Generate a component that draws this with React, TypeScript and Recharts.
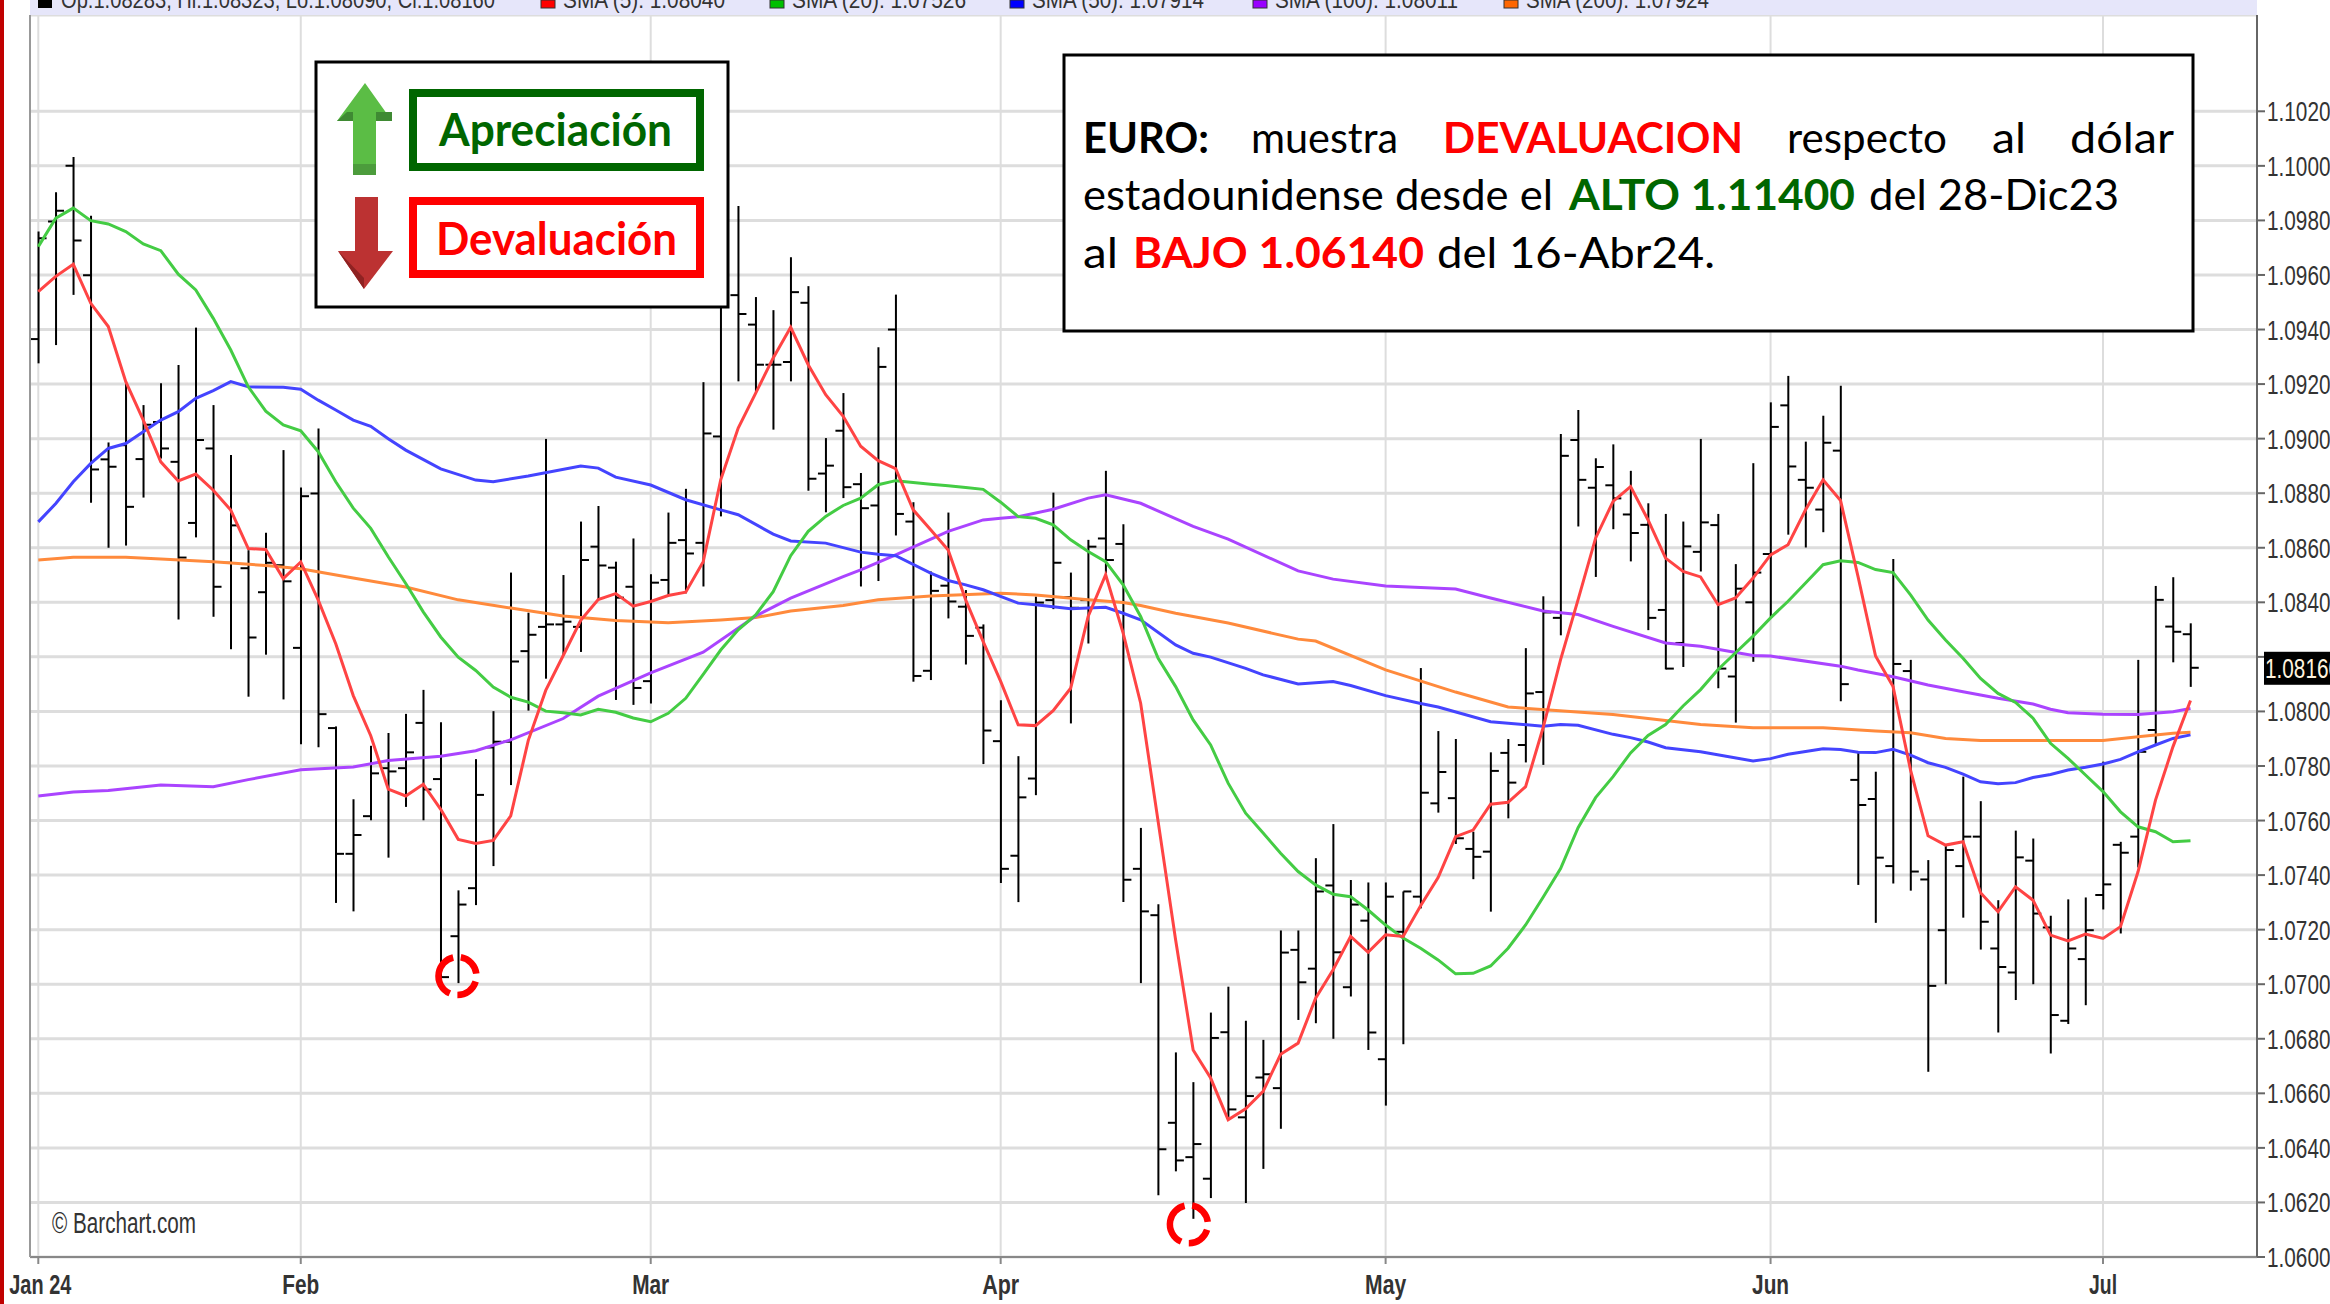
import React from 'react';
import {
  ComposedChart,
  Bar,
  Line,
  XAxis,
  YAxis,
  CartesianGrid,
  ReferenceDot,
} from 'recharts';

const openVals = [
  1.09365, 1.09796, 1.1, 1.09599, 1.08924, 1.08976, 1.08925, 1.09061, 1.08915, 1.08691,
  1.08964, 1.08545, 1.08525, 1.08437, 1.08536, 1.08233, 1.08799, 1.07939, 1.07478, 1.07616,
  1.07792, 1.07792, 1.07958, 1.07752, 1.07176, 1.07352, 1.07868, 1.07889, 1.08221, 1.0831,
  1.08319, 1.0831, 1.08604, 1.08527, 1.08457, 1.08111, 1.08482, 1.08628, 1.08618, 1.09008,
  1.09526, 1.09418, 1.09271, 1.09281, 1.09498, 1.08872, 1.09029, 1.08833, 1.08755, 1.094,
  1.08696, 1.08149, 1.08461, 1.08384, 1.08307, 1.07891, 1.07471, 1.07754, 1.08408, 1.08419,
  1.08408, 1.08634, 1.08614, 1.07423, 1.07253, 1.06492, 1.06366, 1.06287, 1.06824, 1.06512,
  1.06658, 1.06619, 1.07126, 1.07057, 1.07362, 1.06989, 1.07233, 1.06725, 1.07192, 1.07321,
  1.07663, 1.07682, 1.07496, 1.07486, 1.07848, 1.07877, 1.08071, 1.08343, 1.08995, 1.0882,
  1.08829, 1.08722, 1.08684, 1.08372, 1.08251, 1.08585, 1.08683, 1.08128, 1.084, 1.08577,
  1.09122, 1.08849, 1.0874, 1.08956, 1.07749, 1.07679, 1.07433, 1.08148, 1.07384, 1.07198,
  1.07433, 1.07541, 1.07131, 1.07043, 1.07453, 1.07208, 1.06866, 1.07092, 1.07327, 1.07511,
  1.07541, 1.07932, 1.08311, 1.08283,
];

const highVals = [
  1.09759, 1.09903, 1.10032, 1.09817, 1.08986, 1.09203, 1.09123, 1.09203, 1.0927, 1.09407,
  1.09123, 1.0894, 1.08591, 1.08655, 1.08958, 1.08821, 1.09037, 1.07945, 1.07678, 1.07874,
  1.07921, 1.07991, 1.08079, 1.0796, 1.07344, 1.07825, 1.08001, 1.08509, 1.08362, 1.08999,
  1.085, 1.08696, 1.08753, 1.08549, 1.08634, 1.08503, 1.08729, 1.08816, 1.09207, 1.09545,
  1.09853, 1.09519, 1.09471, 1.09665, 1.09559, 1.09002, 1.09167, 1.08874, 1.09335, 1.09528,
  1.08767, 1.08513, 1.08729, 1.08445, 1.08319, 1.08041, 1.07836, 1.08421, 1.08802, 1.08509,
  1.08629, 1.08882, 1.08686, 1.07573, 1.07293, 1.0675, 1.06641, 1.06896, 1.06991, 1.06866,
  1.06796, 1.07197, 1.07197, 1.07462, 1.07587, 1.07382, 1.07373, 1.07373, 1.0734, 1.08159,
  1.07928, 1.07899, 1.07559, 1.0785, 1.07899, 1.08232, 1.08422, 1.09017, 1.09105, 1.08928,
  1.08979, 1.08882, 1.08763, 1.08724, 1.08696, 1.08999, 1.08724, 1.0854, 1.0891, 1.09133,
  1.0923, 1.08989, 1.09084, 1.09194, 1.07855, 1.07779, 1.08559, 1.08189, 1.07455, 1.07514,
  1.07761, 1.07671, 1.07308, 1.07563, 1.07534, 1.07251, 1.07311, 1.07318, 1.07816, 1.07522,
  1.08189, 1.0846, 1.08492, 1.08323,
];

const lowVals = [
  1.09276, 1.09343, 1.09527, 1.08765, 1.086, 1.08608, 1.08784, 1.08927, 1.08337, 1.08638,
  1.08347, 1.08228, 1.08054, 1.08208, 1.08044, 1.0788, 1.07869, 1.07298, 1.07267, 1.07601,
  1.07464, 1.0765, 1.07601, 1.0702, 1.07004, 1.0729, 1.07433, 1.0773, 1.08003, 1.0812,
  1.08205, 1.08218, 1.08408, 1.08042, 1.08024, 1.08029, 1.08427, 1.08433, 1.08458, 1.08715,
  1.0921, 1.09164, 1.09033, 1.0921, 1.08809, 1.0873, 1.08782, 1.08458, 1.08478, 1.08645,
  1.08109, 1.08115, 1.08341, 1.08172, 1.07807, 1.07371, 1.07301, 1.07693, 1.08375, 1.07956,
  1.08249, 1.08506, 1.07301, 1.07004, 1.06226, 1.06314, 1.0614, 1.06216, 1.06509, 1.06198,
  1.06323, 1.0647, 1.06869, 1.06857, 1.068, 1.06955, 1.06759, 1.06555, 1.0678, 1.07278,
  1.07629, 1.07514, 1.07385, 1.07266, 1.07608, 1.07813, 1.07804, 1.08279, 1.08678, 1.08493,
  1.08668, 1.0855, 1.08298, 1.08154, 1.08163, 1.08513, 1.08085, 1.07959, 1.08182, 1.08346,
  1.08648, 1.08601, 1.08657, 1.08037, 1.07364, 1.07225, 1.07369, 1.07343, 1.06679, 1.07,
  1.07244, 1.07127, 1.06823, 1.06942, 1.07, 1.06746, 1.06854, 1.06923, 1.07274, 1.07186,
  1.07428, 1.07877, 1.0818, 1.0809,
];

const closeVals = [
  1.09735, 1.09835, 1.09726, 1.08887, 1.08897, 1.0875, 1.09051, 1.08964, 1.08564, 1.08995,
  1.08457, 1.08682, 1.08271, 1.08545, 1.08477, 1.08789, 1.0799, 1.07478, 1.07547, 1.07773,
  1.0778, 1.0785, 1.07714, 1.07026, 1.07292, 1.07694, 1.07889, 1.08183, 1.08281, 1.08319,
  1.08329, 1.08555, 1.08535, 1.08417, 1.08086, 1.08472, 1.08618, 1.08579, 1.09019, 1.0953,
  1.09457, 1.09271, 1.09271, 1.09537, 1.08853, 1.08901, 1.08822, 1.08745, 1.09263, 1.08724,
  1.0813, 1.08442, 1.08403, 1.08277, 1.0793, 1.07423, 1.07685, 1.08399, 1.08545, 1.0838,
  1.08604, 1.08555, 1.07383, 1.07267, 1.06395, 1.06354, 1.06414, 1.06803, 1.06541, 1.0659,
  1.0667, 1.07116, 1.07007, 1.0734, 1.07117, 1.07292, 1.06823, 1.07321, 1.0734, 1.07702,
  1.07778, 1.07535, 1.07467, 1.07782, 1.07739, 1.08066, 1.08363, 1.08937, 1.08849, 1.08896,
  1.08781, 1.08654, 1.08343, 1.08157, 1.08605, 1.08693, 1.08157, 1.0845, 1.08509, 1.09043,
  1.08898, 1.0882, 1.08985, 1.081, 1.07657, 1.07464, 1.08174, 1.07413, 1.06994, 1.07492,
  1.07541, 1.07229, 1.07063, 1.07465, 1.07259, 1.06887, 1.07131, 1.07198, 1.07366, 1.07482,
  1.07852, 1.08409, 1.08292, 1.0816,
];

const sma5 = [
  1.09539, 1.09595, 1.09639, 1.09496, 1.09411, 1.09209, 1.09068, 1.08915, 1.08845, 1.0887,
  1.08811, 1.08738, 1.08597, 1.08594, 1.08487, 1.08548, 1.08408, 1.08248, 1.08058, 1.07911,
  1.07715, 1.0769, 1.07733, 1.07641, 1.07531, 1.07516, 1.07527, 1.07617, 1.07893, 1.08077,
  1.08205, 1.08334, 1.0841, 1.08432, 1.08386, 1.08403, 1.08425, 1.08437, 1.08549, 1.08849,
  1.09039, 1.09167, 1.09296, 1.09408, 1.09271, 1.09161, 1.09082, 1.08972, 1.08919, 1.0889,
  1.08739, 1.08666, 1.08592, 1.08409, 1.08256, 1.0811, 1.07951, 1.07948, 1.08003, 1.08085,
  1.08348, 1.08501, 1.08287, 1.0803, 1.07596, 1.07162, 1.06759, 1.06656, 1.06503, 1.06543,
  1.06607, 1.06743, 1.06784, 1.06949, 1.07053, 1.07175, 1.07117, 1.07181, 1.07175, 1.07288,
  1.07391, 1.07541, 1.07565, 1.0766, 1.07667, 1.07724, 1.0794, 1.0819, 1.0841, 1.08635,
  1.0877, 1.08824, 1.08702, 1.08562, 1.08513, 1.08493, 1.08391, 1.08416, 1.08489, 1.08574,
  1.08611, 1.08739, 1.08849, 1.08773, 1.08494, 1.08203, 1.08091, 1.07785, 1.07544, 1.0751,
  1.07522, 1.07335, 1.07266, 1.07357, 1.07308, 1.0718, 1.07159, 1.07184, 1.07168, 1.07211,
  1.07412, 1.07675, 1.07871, 1.0804,
];

const sma20 = [
  1.09704, 1.09808, 1.09845, 1.09799, 1.09787, 1.09759, 1.09714, 1.09689, 1.09603, 1.09545,
  1.09441, 1.09325, 1.0919, 1.09101, 1.0905, 1.09029, 1.08952, 1.08842, 1.08745, 1.08671,
  1.08567, 1.08469, 1.08365, 1.08273, 1.08199, 1.0815, 1.08089, 1.08052, 1.08034, 1.08001,
  1.07995, 1.07987, 1.08008, 1.07997, 1.07976, 1.07962, 1.07993, 1.08048, 1.08136, 1.08225,
  1.08299, 1.08354, 1.08439, 1.08571, 1.0866, 1.08715, 1.08755, 1.08782, 1.08831, 1.08846,
  1.08839, 1.08833, 1.08827, 1.08821, 1.08814, 1.08767, 1.08714, 1.08708, 1.08684, 1.08629,
  1.08586, 1.08549, 1.08464, 1.08348, 1.08195, 1.08091, 1.07969, 1.07877, 1.07737, 1.07627,
  1.07554, 1.0748, 1.07413, 1.07364, 1.0733, 1.07321, 1.07272, 1.07217, 1.07169, 1.07132,
  1.07089, 1.07038, 1.0704, 1.07067, 1.07132, 1.07217, 1.07319, 1.07424, 1.07574, 1.07684,
  1.07761, 1.07848, 1.07912, 1.07952, 1.0802, 1.0808, 1.08154, 1.08215, 1.08276, 1.08343,
  1.08404, 1.08471, 1.08538, 1.08552, 1.08546, 1.0852, 1.08509, 1.08427, 1.08335, 1.08262,
  1.08195, 1.08121, 1.08066, 1.08033, 1.07975, 1.07883, 1.07828, 1.07767, 1.07706, 1.07632,
  1.07577, 1.07559, 1.07522, 1.07526,
];

// [bar index, value] read at the knots of the slower averages
const sma50Points = [
  [0, 1.08695], [1, 1.08762], [2, 1.08842], [3, 1.08909], [4, 1.08964], [5, 1.08982], [6, 1.09025],
  [7, 1.09068], [8, 1.09099], [9, 1.09148], [10, 1.09176], [11, 1.09209], [12, 1.0919], [14, 1.09188],
  [15, 1.09181], [16, 1.09141], [17, 1.09105], [18, 1.09068], [19, 1.09045], [20, 1.09], [21, 1.08958],
  [23, 1.08889], [25, 1.08848], [26, 1.08842], [28, 1.08863], [31, 1.089], [32, 1.08892], [33, 1.08859],
  [35, 1.0883], [37, 1.08776], [39, 1.08739], [40, 1.08721], [42, 1.0865], [43, 1.08625], [45, 1.08617],
  [47, 1.08584], [48, 1.08576], [49, 1.08571], [51, 1.08507], [52, 1.0848], [53, 1.08464], [54, 1.08446],
  [56, 1.08397], [57, 1.08391], [59, 1.08376], [61, 1.08382], [62, 1.0836], [63, 1.08336], [65, 1.08244],
  [66, 1.08213], [67, 1.08199], [69, 1.08158], [70, 1.08134], [72, 1.08101], [74, 1.0811], [75, 1.08095],
  [77, 1.08058], [79, 1.08029], [80, 1.08016], [83, 1.07962], [86, 1.07946], [87, 1.07952], [88, 1.07949],
  [90, 1.07916], [91, 1.07904], [92, 1.07888], [93, 1.07867], [95, 1.07852], [98, 1.07818], [99, 1.07827],
  [100, 1.07843], [102, 1.07863], [103, 1.0786], [104, 1.0785], [105, 1.07849], [106, 1.07861], [107, 1.0784],
  [108, 1.07812], [109, 1.07795], [110, 1.0777], [111, 1.07742], [112, 1.07735], [113, 1.07739], [114, 1.07758],
  [115, 1.07769], [116, 1.07785], [117, 1.07795], [118, 1.07807], [119, 1.07824], [120, 1.07852], [121, 1.07877],
  [122, 1.07901], [123, 1.07914],
];

const sma100Points = [
  [0, 1.0769], [2, 1.07705], [4, 1.0771], [7, 1.0773], [10, 1.07724], [12, 1.0775], [15, 1.07786], [18, 1.07796],
  [20, 1.0782], [23, 1.07836], [25, 1.07856], [27, 1.07896], [30, 1.07974], [32, 1.08056], [35, 1.08141],
  [38, 1.08217], [41, 1.0835], [43, 1.08415], [46, 1.08494], [47, 1.08519], [49, 1.08574], [52, 1.0866],
  [54, 1.08702], [55, 1.08708], [56, 1.08714], [58, 1.08741], [60, 1.08782], [61, 1.08794], [63, 1.08763],
  [66, 1.08678], [68, 1.08632], [72, 1.08515], [74, 1.08485], [77, 1.0846], [81, 1.08449], [83, 1.08416],
  [86, 1.08368], [88, 1.08355], [90, 1.08312], [93, 1.08251], [95, 1.08239], [98, 1.08205], [99, 1.08203],
  [103, 1.08166], [104, 1.08152], [106, 1.08127], [108, 1.08097], [110, 1.08072], [112, 1.08048], [114, 1.08027],
  [115, 1.08008], [116, 1.07995], [118, 1.0799], [120, 1.07989], [122, 1.07999], [123, 1.08011],
];

const sma200Points = [
  [0, 1.08555], [2, 1.08565], [5, 1.08565], [7, 1.08559], [10, 1.08549], [13, 1.08535], [15, 1.08523], [18, 1.08489],
  [21, 1.08456], [24, 1.08409], [27, 1.08379], [30, 1.0835], [33, 1.08333], [36, 1.08325], [39, 1.08335], [41, 1.08344],
  [43, 1.08368], [46, 1.08388], [48, 1.08409], [51, 1.08423], [55, 1.08433], [57, 1.08427], [60, 1.08409], [62, 1.08399],
  [63, 1.08388], [65, 1.0836], [68, 1.08324], [72, 1.08265], [73, 1.08258], [77, 1.08152], [81, 1.08071], [84, 1.08016],
  [90, 1.07989], [93, 1.07967], [95, 1.07952], [98, 1.0794], [102, 1.0794], [105, 1.07928], [107, 1.07922], [109, 1.07901],
  [111, 1.07893], [115, 1.07893], [118, 1.07893], [120, 1.07907], [122, 1.0792], [123, 1.07924],
];

const priceTicks = [
  1.06, 1.062, 1.064, 1.066, 1.068, 1.07, 1.072, 1.074, 1.076, 1.078, 1.08, 1.082, 1.084, 1.086, 1.088, 1.09, 1.092,
  1.094, 1.096, 1.098, 1.1, 1.102,
];
const monthTicks = [0, 15, 35, 55, 77, 99, 118];
const monthLabels = ['Jan 24', 'Feb', 'Mar', 'Apr', 'May', 'Jun', 'Jul'];
const monthLabelWidths = [62, 37, 37, 37, 41, 37, 28];

const lastPrice = 1.0816;
const lowMarkers = [
  [23.9, 1.0703],
  [65.7, 1.0612],
];

const quoteText = 'Op:1.08283, Hi:1.08323, Lo:1.08090, Cl:1.08160';
const legendItems = [
  { label: 'SMA (5): 1.08040', color: '#ff0000', x: 541, width: 162 },
  { label: 'SMA (20): 1.07526', color: '#00c000', x: 770, width: 174 },
  { label: 'SMA (50): 1.07914', color: '#0000ff', x: 1010, width: 172 },
  { label: 'SMA (100): 1.08011', color: '#9900ff', x: 1253, width: 183 },
  { label: 'SMA (200): 1.07924', color: '#ff6600', x: 1504, width: 183 },
];

const pointsAt = (points: number[][], i: number) => {
  const hit = points.find((p) => p[0] === i);
  return hit ? hit[1] : null;
};

const rows = highVals.map((high, i) => ({
  idx: i,
  open: openVals[i],
  high,
  low: lowVals[i],
  close: closeVals[i],
  range: [lowVals[i], high],
  sma5: sma5[i],
  sma20: sma20[i],
  sma50: pointsAt(sma50Points, i),
  sma100: pointsAt(sma100Points, i),
  sma200: pointsAt(sma200Points, i),
}));

const OhlcBar = (props: any) => {
  const { x, y, width, height, payload } = props;
  const cx = x + width / 2;
  const span = payload.high - payload.low || 1;
  const yOpen = y + ((payload.high - payload.open) / span) * height;
  const yClose = y + ((payload.high - payload.close) / span) * height;
  return (
    <g stroke="#000" strokeWidth={2}>
      <line x1={cx} x2={cx} y1={y} y2={y + height} />
      <line x1={cx - 8} x2={cx} y1={yOpen} y2={yOpen} />
      <line x1={cx} x2={cx + 8} y1={yClose} y2={yClose} />
    </g>
  );
};

const PriceTick = (props: any) => {
  const { x, y, payload } = props;
  if (payload.value === 1.082) return null;
  return (
    <text
      x={x}
      y={y + 10}
      fontFamily="Liberation Sans"
      fontSize={27}
      fill="#333"
      textLength={75}
      lengthAdjust="spacingAndGlyphs"
    >
      {payload.value.toFixed(5)}
    </text>
  );
};

const MonthTick = (props: any) => {
  const { x, y, payload } = props;
  const i = monthTicks.indexOf(payload.value);
  return (
    <text
      x={i === 0 ? x + 2 : x}
      y={y + 28}
      textAnchor="middle"
      fontFamily="Liberation Sans"
      fontWeight="bold"
      fontSize={28}
      fill="#333"
      textLength={monthLabelWidths[i]}
      lengthAdjust="spacingAndGlyphs"
    >
      {monthLabels[i]}
    </text>
  );
};

const LowRing = (props: any) => (
  <circle
    cx={props.cx + 1}
    cy={props.cy}
    r={19}
    fill="none"
    stroke="#ff0000"
    strokeWidth={6.5}
    strokeDasharray="24 8 24 8 47 8"
    transform={`rotate(-80 ${props.cx + 1} ${props.cy})`}
  />
);

const PriceBox = (props: any) => (
  <g>
    <rect x={props.cx + 7} y={props.cy - 16} width={73} height={33} fill="#000" />
    <text
      x={props.cx + 8}
      y={props.cy + 10}
      fontFamily="Liberation Sans"
      fontSize={27}
      fill="#fff3df"
      textLength={75}
      lengthAdjust="spacingAndGlyphs"
    >
      {lastPrice.toFixed(5)}
    </text>
  </g>
);

const Word = ({ x, end, y, color = '#000', bold = false, size = 42, children }: any) => (
  <text
    x={x}
    y={y}
    fill={color}
    fontFamily="Lato"
    fontWeight={bold ? 700 : 400}
    fontSize={size}
    textLength={end - x}
    lengthAdjust="spacingAndGlyphs"
  >
    {children}
  </text>
);

const Annotations = () => (
  <svg
    width={2330}
    height={1304}
    style={{ position: 'absolute', left: 0, top: 0, pointerEvents: 'none' }}
  >
    <rect x={0} y={0} width={4} height={1304} fill="#c00000" />
    <rect x={29} y={15} width={2} height={1242} fill="#999" />

    <rect x={30} y={0} width={2227} height={15} fill="#e6e6fa" />
    <rect x={38} y={0} width={14} height={8} fill="#000" />
    <text x={61} y={8} fontFamily="Liberation Sans" fontSize={23} fill="#333" textLength={434} lengthAdjust="spacingAndGlyphs">
      {quoteText}
    </text>
    {legendItems.map((item) => (
      <g key={item.label}>
        <rect x={item.x} y={0} width={14} height={8} fill={item.color} stroke="#333" />
        <text
          x={item.x + 22}
          y={8}
          fontFamily="Liberation Sans"
          fontSize={23}
          fill="#333"
          textLength={item.width}
          lengthAdjust="spacingAndGlyphs"
        >
          {item.label}
        </text>
      </g>
    ))}

    <text
      x={52}
      y={1233}
      fontFamily="Liberation Sans"
      fontSize={29}
      fill="#333"
      textLength={144}
      lengthAdjust="spacingAndGlyphs"
    >
      © Barchart.com
    </text>

    <rect x={316} y={62} width={412} height={245} fill="#fff" stroke="#000" strokeWidth={3} />
    <polygon points="365,83 392,121 376,121 376,175 353,175 353,121 337,121" fill="#5bbd45" />
    <polygon points="337,121 347,112 353,112 353,121" fill="#3f8a33" />
    <polygon points="392,121 392,112 376,112 376,121" fill="#3f8a33" />
    <rect x={353} y={164} width={23} height={11} fill="#4c9c3c" />
    <polygon points="355,197 378,197 378,251 393,251 364,289 338,251 355,251" fill="#bc3232" />
    <polygon points="338,251 364,289 364,278" fill="#8e2222" />
    <rect x={413} y={93} width={287} height={74} fill="#fff" stroke="#006600" strokeWidth={8} />
    <Word x={439} end={672} y={146} color="#006600" bold size={45}>
      Apreciación
    </Word>
    <rect x={413} y={201} width={287} height={73} fill="#fff" stroke="#ff0000" strokeWidth={8} />
    <Word x={436} end={677} y={255} color="#ff0000" bold size={45}>
      Devaluación
    </Word>

    <rect x={1064} y={55} width={1129} height={276} fill="#fff" stroke="#000" strokeWidth={3} />
    <Word x={1083} end={1209} y={153} bold>EURO:</Word>
    <Word x={1251} end={1398} y={153}>muestra</Word>
    <Word x={1443} end={1743} y={153} color="#ff0000" bold>DEVALUACION</Word>
    <Word x={1787} end={1947} y={153}>respecto</Word>
    <Word x={1992} end={2026} y={153}>al</Word>
    <Word x={2070} end={2174} y={153}>dólar</Word>
    <Word x={1083} end={1553} y={210}>estadounidense desde el</Word>
    <Word x={1569} end={1855} y={210} color="#006600" bold>ALTO 1.11400</Word>
    <Word x={1869} end={2119} y={210}>del 28-Dic23</Word>
    <Word x={1083} end={1118} y={268}>al</Word>
    <Word x={1133} end={1424} y={268} color="#ff0000" bold>BAJO 1.06140</Word>
    <Word x={1437} end={1715} y={268}>del 16-Abr24.</Word>
  </svg>
);

export default function App() {
  return (
    <div style={{ position: 'absolute', left: 0, top: 0, width: 2330, height: 1304, overflow: 'hidden', background: '#fff' }}>
      <ComposedChart
        width={2330}
        height={1304}
        data={rows}
        margin={{ top: 15, right: 0, bottom: 0, left: 30 }}
      >
        <CartesianGrid horizontal={false} stroke="#dddddd" strokeWidth={2} />
        <CartesianGrid vertical={false} stroke="#dddddd" strokeWidth={3} />
        <XAxis
          dataKey="idx"
          type="number"
          domain={[-0.474, 126.8]}
          ticks={monthTicks}
          height={47}
          tickSize={7}
          tick={<MonthTick />}
          stroke="#888"
          strokeWidth={2}
          interval={0}
        />
        <YAxis
          orientation="right"
          domain={[1.06, 1.10553]}
          ticks={priceTicks}
          width={73}
          tickSize={8}
          tick={<PriceTick />}
          stroke="#666"
          strokeWidth={2}
          interval={0}
          allowDataOverflow
        />
        <Bar dataKey="range" barSize={2} shape={<OhlcBar />} isAnimationActive={false} />
        <Line dataKey="sma200" stroke="#ff8a3c" strokeWidth={3} dot={false} connectNulls isAnimationActive={false} />
        <Line dataKey="sma100" stroke="#aa44ff" strokeWidth={3} dot={false} connectNulls isAnimationActive={false} />
        <Line dataKey="sma50" stroke="#4444ff" strokeWidth={3} dot={false} connectNulls isAnimationActive={false} />
        <Line dataKey="sma20" stroke="#44cc44" strokeWidth={3} dot={false} connectNulls isAnimationActive={false} />
        <Line dataKey="sma5" stroke="#ff4444" strokeWidth={3} dot={false} connectNulls isAnimationActive={false} />
        {lowMarkers.map((m) => (
          <ReferenceDot key={m[0]} x={m[0]} y={m[1]} ifOverflow="visible" shape={<LowRing />} />
        ))}
        <ReferenceDot x={126.8} y={lastPrice} ifOverflow="visible" shape={<PriceBox />} />
      </ComposedChart>
      <Annotations />
    </div>
  );
}
